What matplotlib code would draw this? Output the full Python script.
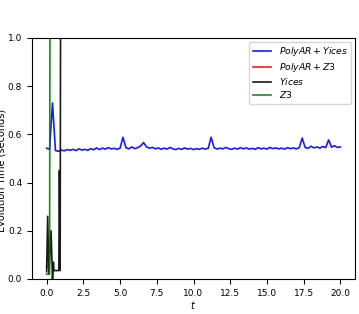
import numpy as np
import matplotlib
matplotlib.use("Agg")
import matplotlib.pyplot as plt

# PolyAR + Yices, sampled every 0.2 s from 0 to 20
t_polyar_yices = np.arange(0, 101) * 0.2
polyar_yices = [0.543, 0.538, 0.730, 0.533, 0.530, 0.535, 0.532, 0.537, 0.534, 0.538,
                0.533, 0.540, 0.535, 0.538, 0.534, 0.541, 0.536, 0.544, 0.537, 0.543,
                0.539, 0.545, 0.540, 0.542, 0.538, 0.543, 0.588, 0.545, 0.540, 0.548,
                0.541, 0.545, 0.552, 0.566, 0.548, 0.543, 0.546, 0.540, 0.544, 0.538,
                0.543, 0.539, 0.546, 0.540, 0.537, 0.542, 0.538, 0.544, 0.539, 0.542,
                0.537, 0.541, 0.538, 0.543, 0.539, 0.542, 0.588, 0.545, 0.539, 0.543,
                0.540, 0.546, 0.541, 0.538, 0.543, 0.539, 0.545, 0.540, 0.544, 0.539,
                0.542, 0.538, 0.545, 0.540, 0.543, 0.539, 0.546, 0.541, 0.544, 0.540,
                0.543, 0.539, 0.545, 0.541, 0.544, 0.540, 0.545, 0.585, 0.546, 0.542,
                0.551, 0.544, 0.548, 0.543, 0.550, 0.545, 0.577, 0.547, 0.553, 0.546,
                0.548]

t_polyar_z3 = [0.0, 0.03]
polyar_z3 = [0.055, 0.05]

t_yices = [0.0, 0.07, 0.15, 0.30, 0.40, 0.46, 0.50, 0.83, 0.87, 0.92, 1.0]
yices = [0.03, 0.26, 0.02, 0.20, 0.0, 0.07, 0.035, 0.035, 0.45, 0.035, 3.0]

t_z3 = [0.0, 0.1, 0.2, 0.27]
z3 = [0.02, 0.02, 0.02, 3.0]

plt.rcParams["font.size"] = 7
plt.rcParams["xtick.labelsize"] = 6.5
plt.rcParams["ytick.labelsize"] = 6.5

fig = plt.figure(figsize=(3.59, 3.14), dpi=100)
ax = fig.add_axes([0.089, 0.1115, 0.9, 0.7675])

ax.plot(t_polyar_yices, polyar_yices, color="b", lw=1.2, alpha=0.9, label="$PolyAR + Yices$")
ax.plot(t_polyar_z3, polyar_z3, color="r", lw=1.2, alpha=0.9, label="$PolyAR + Z3$")
ax.plot(t_yices, yices, color="k", lw=1.2, alpha=0.9, label="$Yices$")
ax.plot(t_z3, z3, color="g", lw=1.2, alpha=0.9, label="$Z3$")

ax.set_xlim(-1, 21)
ax.set_ylim(0, 1.0)
ax.set_xlabel("$t$", labelpad=1)
ax.set_ylabel("Evolution Time (seconds)")
ax.yaxis.set_label_coords(-0.078, 0.45)
ax.legend(loc="upper right", fontsize=6.7, labelspacing=0.25, borderaxespad=0.4)

fig.savefig("out.png", dpi=100)
